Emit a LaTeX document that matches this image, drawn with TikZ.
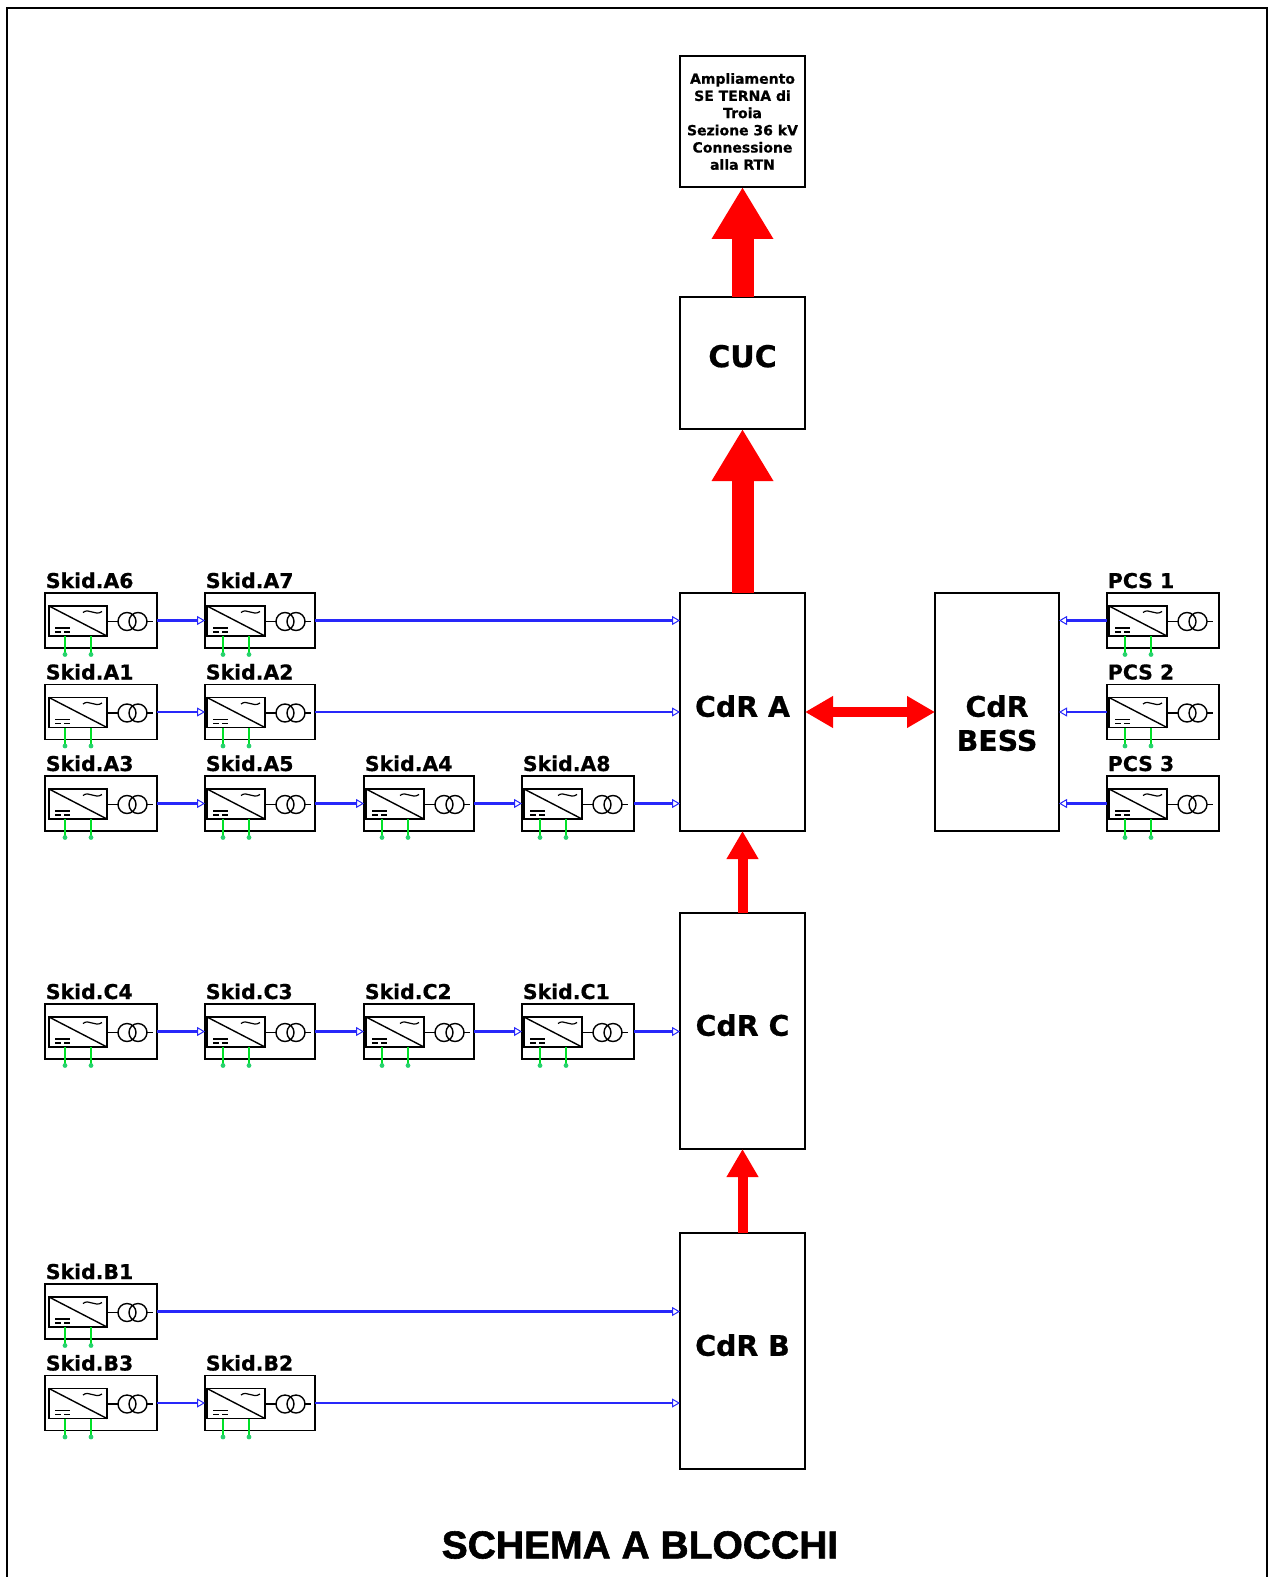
\documentclass[tikz,border=0pt]{standalone}
\usepackage{fontspec}
\setmainfont{DejaVu Sans}[BoldFeatures={FakeBold=0.6}]
\newfontfamily\titlefont{Liberation Sans}[BoldFeatures={FakeBold=1.5}]
\usetikzlibrary{positioning,arrows.meta}
\definecolor{linkblue}{RGB}{40,40,250}
\definecolor{dcgreen}{RGB}{0,225,40}
\definecolor{dotgreen}{RGB}{40,210,110}
\tikzset{
  skidbox/.style={draw, line width=0.8pt, anchor=west, minimum height=27.5pt,
                  inner sep=0pt, outer sep=0pt},
  skidlab/.style={anchor=base west, inner sep=0pt, font=\bfseries\fontsize{10.2}{12}\selectfont},
  block/.style={draw, line width=0.8pt, anchor=north west, inner sep=0pt, outer sep=0pt,
                align=center, minimum width=62.5pt, font=\bfseries\fontsize{14.2}{17}\selectfont},
  blue link/.style={-{Triangle[open,fill=white,length=4pt,width=4.5pt,line width=0.5pt]}, linkblue, line width=1.1pt},
  big arrow/.style={-{Triangle[length=26pt,width=29pt]}, red, line width=11pt},
  small arrow/.style={-{Triangle[length=14pt,width=15pt]}, red, line width=5pt},
  both arrow/.style={{Triangle[length=14pt,width=15pt]}-{Triangle[length=14pt,width=15pt]}, red, line width=5pt},
  pics/conv/.style={code={
    \draw[line width=0.9pt] (0,-14.5) rectangle (58,15.5);
    \draw[line width=0.7pt] (0,-14.5) -- (58,15.5);
    \draw[line width=0.6pt] (34,-8) .. controls (40,-13) and (46,-4) .. (53,-9);
    \draw[line width=0.6pt] (6,7.5) -- (21,7.5);
    \draw[line width=0.6pt] (6,11.5) -- (12,11.5) (15,11.5) -- (21,11.5);
    \draw[line width=0.7pt] (58,1) -- (69,1) (98,1) -- (104,1);
    \draw[line width=0.7pt] (78,1) circle (9) (89,1) circle (9);
    \draw[dcgreen, line width=0.8pt] (16,15.5) -- (16,34) (42,15.5) -- (42,34);
    \fill[dotgreen] (16,34) circle (2.4) (42,34) circle (2.4);
  }}
}
\newcommand{\skidunit}[6]{
  \node[skidbox, minimum width=#5*0.5pt] (#1) at (#3,#4) {};
  \node[skidlab] (#1lab) at ([shift={(0.5,-5)}]#1.north west) {#2};
  \pic at ([shift={(#6,0)}]#1.west) {conv};
}
\begin{document}
\begin{tikzpicture}[x=0.5pt,y=-0.5pt]
  \useasboundingbox (0,0) rectangle (1268,1577);
  \draw[line width=0.8pt] (7,1577) |- (1267,8) -- (1267,1577);

  \node[block, minimum height=65.5pt, font=\bfseries\fontsize{7}{8.6}\selectfont] (rtn) at (680,56)
    {Ampliamento\\SE TERNA di\\Troia\\Sezione 36 kV\\Connessione\\alla RTN};
  \node[block, minimum height=66pt, font=\bfseries\fontsize{15}{18}\selectfont, text depth=7pt] (cuc) at (680,297) {CUC};
  \node[block, minimum height=119pt, text depth=6pt] (cdrA) at (680,593) {CdR A};
  \node[block, minimum height=118pt, text depth=6pt] (cdrC) at (680,913) {CdR C};
  \node[block, minimum height=118pt, text depth=6pt] (cdrB) at (680,1233) {CdR B};
  \node[block, minimum height=119pt, minimum width=62pt, text height=39pt] (bess) at (935,593) {CdR\\BESS};

  \skidunit{skA6}{Skid.A6}{45}{620.5}{112}{4}
  \skidunit{skA7}{Skid.A7}{205}{620.5}{110}{2}
  \skidunit{skA1}{Skid.A1}{45}{712}{112}{4}
  \skidunit{skA2}{Skid.A2}{205}{712}{110}{2}
  \skidunit{skA3}{Skid.A3}{45}{803.5}{112}{4}
  \skidunit{skA5}{Skid.A5}{205}{803.5}{110}{2}
  \skidunit{skA4}{Skid.A4}{364}{803.5}{110}{2}
  \skidunit{skA8}{Skid.A8}{522}{803.5}{112}{2}
  \skidunit{skC4}{Skid.C4}{45}{1031.5}{112}{4}
  \skidunit{skC3}{Skid.C3}{205}{1031.5}{110}{2}
  \skidunit{skC2}{Skid.C2}{364}{1031.5}{110}{2}
  \skidunit{skC1}{Skid.C1}{522}{1031.5}{112}{2}
  \skidunit{skB1}{Skid.B1}{45}{1311.5}{112}{4}
  \skidunit{skB3}{Skid.B3}{45}{1403}{112}{4}
  \skidunit{skB2}{Skid.B2}{205}{1403}{110}{2}
  \skidunit{pcsA}{PCS 1}{1107}{620.5}{112}{2}
  \skidunit{pcsB}{PCS 2}{1107}{712}{112}{2}
  \skidunit{pcsC}{PCS 3}{1107}{803.5}{112}{2}

  % links between skids
  \foreach \a/\b in {skA6/skA7,skA1/skA2,skA3/skA5,skA5/skA4,skA4/skA8,skC4/skC3,skC3/skC2,skC2/skC1,skB3/skB2}
    \draw[blue link] (\a.east) -- (\b.west);
  % links into the collectors
  \foreach \a/\b in {skA7/cdrA,skA2/cdrA,skA8/cdrA,skC1/cdrC,skB1/cdrB,skB2/cdrB}
    \draw[blue link] (\a.east) -- (\a.east -| \b.west);
  \foreach \a in {pcsA,pcsB,pcsC}
    \draw[blue link] (\a.west) -- (\a.west -| bess.east);

  \draw[big arrow] (cuc.north) -- (rtn.south);
  \draw[big arrow] (cdrA.north) -- (cuc.south);
  \draw[small arrow] (cdrC.north) -- (cdrA.south);
  \draw[small arrow] (cdrB.north) -- (cdrC.south);
  \draw[both arrow] (cdrA.east |- skA2.east) -- (bess.west |- skA2.east);

  \node[font=\titlefont\bfseries\fontsize{19.5}{22}\selectfont, inner sep=0pt] (title) at (640,1545) {SCHEMA A BLOCCHI};
\end{tikzpicture}
\end{document}
